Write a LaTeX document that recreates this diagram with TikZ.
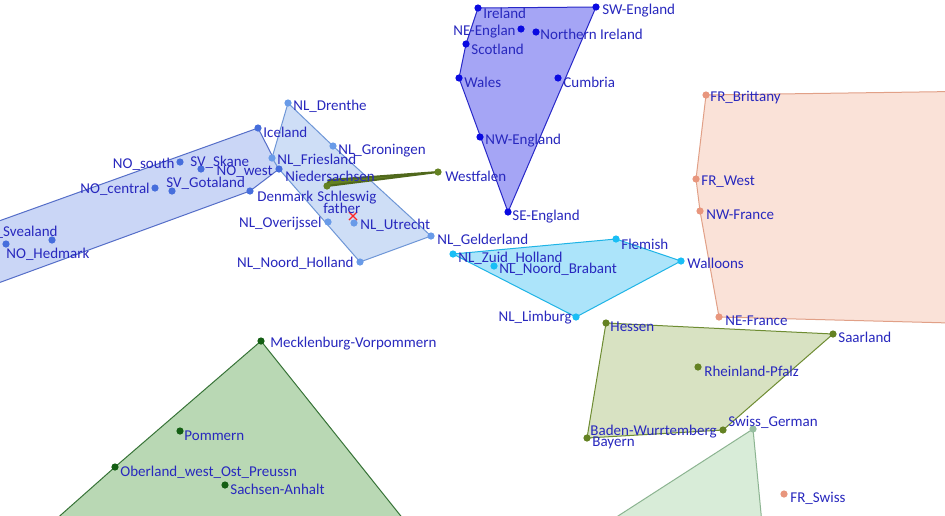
\documentclass[tikz,border=0pt]{standalone}
\usepackage{fontspec}
\setmainfont{Carlito}

\definecolor{labelblue}{RGB}{40,40,190}
\definecolor{ukdot}{RGB}{10,10,225}
\definecolor{ukfill}{RGB}{165,165,245}
\definecolor{ukedge}{RGB}{40,40,200}
\definecolor{scdot}{RGB}{70,110,220}
\definecolor{scfill}{RGB}{202,214,246}
\definecolor{scedge}{RGB}{85,110,200}
\definecolor{nldot}{RGB}{105,155,232}
\definecolor{nlfill}{RGB}{206,222,246}
\definecolor{nledge}{RGB}{110,150,215}
\definecolor{fldot}{RGB}{25,190,245}
\definecolor{flfill}{RGB}{172,228,250}
\definecolor{fledge}{RGB}{30,180,230}
\definecolor{frdot}{RGB}{232,150,125}
\definecolor{frfill}{RGB}{250,226,216}
\definecolor{fredge}{RGB}{225,160,135}
\definecolor{oldot}{RGB}{100,130,35}
\definecolor{olfill}{RGB}{216,226,194}
\definecolor{oledge}{RGB}{110,140,50}
\definecolor{grdot}{RGB}{20,95,20}
\definecolor{grfill}{RGB}{185,216,180}
\definecolor{gredge}{RGB}{55,115,55}
\definecolor{swdot}{RGB}{150,190,160}
\definecolor{swfill}{RGB}{216,236,216}
\definecolor{swedge}{RGB}{140,180,145}

\tikzset{
  lbl/.style={anchor=west, inner sep=0pt, text=labelblue, font=\fontsize{7.5}{9}\selectfont},
  lbll/.style={lbl, anchor=east},
  hull/.style={fill=#1fill, draw=#1edge, line width=0.5pt, line join=round}
}

\begin{document}
\begin{tikzpicture}[x=0.5pt, y=-0.5pt]
                \clip (0,0) rectangle (945,515);
                \fill[white] (0,0) rectangle (945,515);

                % UK
                \coordinate (ie)  at (478,8);
                \coordinate (swe) at (596,7);
                \coordinate (nee) at (521,29);
                \coordinate (ni)  at (536,32);
                \coordinate (sco) at (466,44);
                \coordinate (wal) at (459,78);
                \coordinate (cum) at (558,78);
                \coordinate (nwe) at (480,137);
                \coordinate (see) at (508,212);

                % Scandinavia
                \coordinate (ice)  at (258,128);
                \coordinate (nos)  at (180,162);
                \coordinate (svs)  at (201,169);
                \coordinate (now)  at (279,169);
                \coordinate (noc)  at (155,188);
                \coordinate (svg)  at (172,191);
                \coordinate (den)  at (250,191);
                \coordinate (svsv) at (52,240);
                \coordinate (nohm) at (6,244);
                \coordinate (sctop) at (-40,235);
                \coordinate (scbot) at (-40,297);

                % Netherlands
                \coordinate (dre) at (288,103);
                \coordinate (gro) at (333,146);
                \coordinate (fri) at (272,158);
                \coordinate (ove) at (328,222);
                \coordinate (utr) at (354,223);
                \coordinate (gel) at (431,236);
                \coordinate (nho) at (360,262);

                % Schleswig - Westfalen
                \coordinate (sch)  at (327,186);
                \coordinate (sch2) at (329,180);
                \coordinate (wf)   at (438,172);

                % Flemish
                \coordinate (zh)  at (453,254);
                \coordinate (nb)  at (494,266);
                \coordinate (fle) at (616,239);
                \coordinate (wln) at (681,261);
                \coordinate (lim) at (576,317);

                % France
                \coordinate (bri) at (706,95);
                \coordinate (frw) at (696,179);
                \coordinate (nwf) at (700,211);
                \coordinate (nef) at (719,317);
                \coordinate (frs) at (784,494);
                \coordinate (frtr) at (990,91);
                \coordinate (frbr) at (990,324);

                % Germany west
                \coordinate (hes) at (606,323);
                \coordinate (saa) at (833,334);
                \coordinate (rhp) at (698,367);
                \coordinate (bw)  at (723,430);
                \coordinate (bay) at (587,438);

                % Swiss
                \coordinate (swg)  at (753,429);
                \coordinate (swbr) at (764,545);
                \coordinate (swbl) at (573,545);

                % Germany east
                \coordinate (mv)  at (261,341);
                \coordinate (pom) at (180,431);
                \coordinate (obe) at (115,467);
                \coordinate (sa)  at (225,485);
                \coordinate (grbl) at (27,545);
                \coordinate (grbr) at (424,545);

                % Hulls
                \filldraw[hull=sc] (sctop) -- (ice) -- (now) -- (den) -- (scbot) -- cycle;
                \filldraw[hull=nl] (dre) -- (gro) -- (gel) -- (nho) -- (now) -- (fri) -- cycle;
                \filldraw[hull=uk] (ie) -- (swe) -- (see) -- (wal) -- (sco) -- cycle;
                \filldraw[hull=fl] (zh) -- (fle) -- (wln) -- (lim) -- cycle;
                \filldraw[hull=fr] (bri) -- (frtr) -- (frbr) -- (nef) -- (nwf) -- (frw) -- cycle;
                \filldraw[hull=ol] (hes) -- (saa) -- (bw) -- (bay) -- cycle;
                \filldraw[hull=sw] (swg) -- (swbr) -- (swbl) -- cycle;
                \filldraw[hull=gr] (mv) -- (grbr) -- (grbl) -- (obe) -- cycle;
                \filldraw[fill=oldot, draw=oldot!80!black, line width=1pt, line join=round] (sch) -- (sch2) -- (wf) -- cycle;

                % Points
                \foreach \p in {ie,swe,nee,ni,sco,wal,cum,nwe,see} \fill[ukdot] (\p) circle (1.8pt);
                \foreach \p in {ice,nos,svs,now,noc,svg,den,svsv,nohm} \fill[scdot] (\p) circle (1.8pt);
                \foreach \p in {dre,gro,fri,ove,utr,gel,nho} \fill[nldot] (\p) circle (1.8pt);
                \foreach \p in {zh,nb,fle,wln,lim} \fill[fldot] (\p) circle (1.8pt);
                \foreach \p in {bri,frw,nwf,nef,frs} \fill[frdot] (\p) circle (1.8pt);
                \foreach \p in {hes,saa,rhp,bw,bay,sch,wf} \fill[oldot] (\p) circle (1.8pt);
                \foreach \p in {mv,pom,obe,sa} \fill[grdot] (\p) circle (1.8pt);
                \fill[swdot] (swg) circle (1.8pt);

                % Centroid mark
                \draw[red!80!pink, line width=0.6pt] (349,212) -- (357,220) (349,220) -- (357,212);

                % Labels
                \node[lbl]  (l-ie)  at (483,13)  {Ireland};
                \node[lbl]  (l-swe) at (602,11)  {SW-England};
                \node[lbll] (l-nee) at (516,32)  {NE-Englan};
                \node[lbl]  (l-ni)  at (540,34)  {Northern Ireland};
                \node[lbl]  (l-sco) at (471,49)  {Scotland};
                \node[lbl]  (l-wal) at (464,82)  {Wales};
                \node[lbl]  (l-cum) at (563,82)  {Cumbria};
                \node[lbl]  (l-nwe) at (485,141) {NW-England};
                \node[lbl]  (l-see) at (512,217) {SE-England};

                \node[lbl]  (l-ice)  at (263,132) {Iceland};
                \node[lbll] (l-nos)  at (175,164) {NO\_south};
                \node[lbl]  (l-svs)  at (190,162) {SV\_Skane};
                \node[lbll] (l-now)  at (273,172) {NO\_west};
                \node[lbll] (l-noc)  at (150,189) {NO\_central};
                \node[lbl]  (l-svg)  at (166,183) {SV\_Gotaland};
                \node[lbl]  (l-den)  at (257,196) {Denmark};
                \node[lbll] (l-svsv) at (58,232)  {SV\_Svealand};
                \node[lbl]  (l-nohm) at (6,254)   {NO\_Hedmark};

                \node[lbl]  (l-dre) at (293,106) {NL\_Drenthe};
                \node[lbl]  (l-gro) at (338,151) {NL\_Groningen};
                \node[lbl]  (l-fri) at (277,160) {NL\_Friesland};
                \node[lbl]  (l-nds) at (285,176) {Niedersachsen};
                \node[lbll] (l-ove) at (322,224) {NL\_Overijssel};
                \node[lbl]  (l-utr) at (360,225) {NL\_Utrecht};
                \node[lbl]  (l-gel) at (437,240) {NL\_Gelderland};
                \node[lbll] (l-nho) at (354,263) {NL\_Noord\_Holland};

                \node[lbl]  (l-sch) at (317,198) {Schleswig};
                \node[lbl]  (l-fat) at (323,208) {father};
                \node[lbl]  (l-wf)  at (445,176) {Westfalen};

                \node[lbl]  (l-zh)  at (458,258) {NL\_Zuid\_Holland};
                \node[lbl]  (l-nb)  at (499,269) {NL\_Noord\_Brabant};
                \node[lbl]  (l-fle) at (621,244) {Flemish};
                \node[lbl]  (l-wln) at (687,263) {Walloons};
                \node[lbll] (l-lim) at (572,318) {NL\_Limburg};

                \node[lbl]  (l-bri) at (710,98)  {FR\_Brittany};
                \node[lbl]  (l-frw) at (701,182) {FR\_West};
                \node[lbl]  (l-nwf) at (706,215) {NW-France};
                \node[lbl]  (l-nef) at (725,321) {NE-France};
                \node[lbl]  (l-frs) at (790,498) {FR\_Swiss};

                \node[lbl]  (l-hes) at (610,327) {Hessen};
                \node[lbl]  (l-saa) at (838,337) {Saarland};
                \node[lbl]  (l-rhp) at (704,371) {Rheinland-Pfalz};
                \node[lbll] (l-bw)  at (717,432) {Baden-Wurrtemberg};
                \node[lbl]  (l-bay) at (592,443) {Bayern};
                \node[lbl]  (l-swg) at (728,422) {Swiss\_German};

                \node[lbl]  (l-mv)  at (270,344) {Mecklenburg-Vorpommern};
                \node[lbl]  (l-pom) at (184,436) {Pommern};
                \node[lbl]  (l-obe) at (120,472) {Oberland\_west\_Ost\_Preussn};
                \node[lbl]  (l-sa)  at (230,489) {Sachsen-Anhalt};
\end{tikzpicture}
\end{document}
